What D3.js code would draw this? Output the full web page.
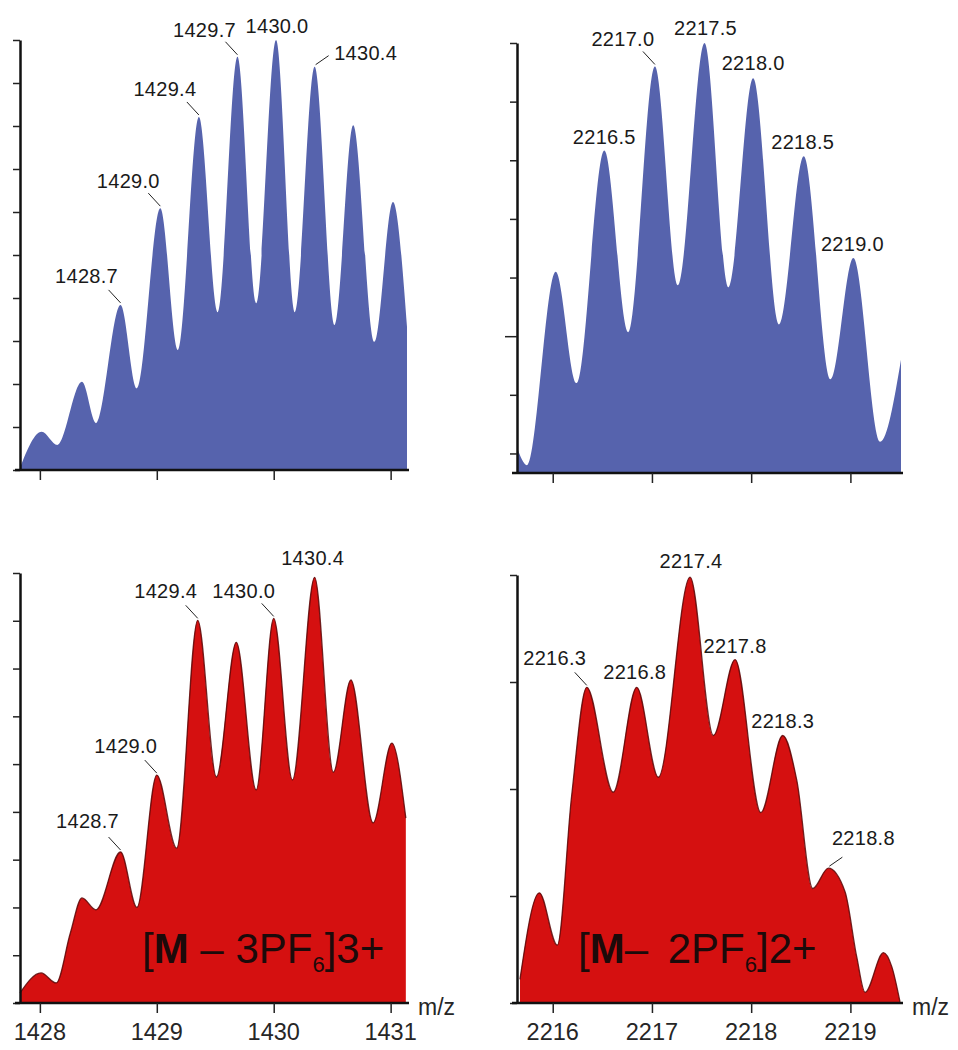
<!DOCTYPE html>
<html>
<head>
<meta charset="utf-8">
<script src="https://cdn.jsdelivr.net/npm/d3@7"></script>
<style>
  body { margin: 0; background: #fff; }
  svg { display: block; }
  .peak { font-family: "Liberation Sans", Arial, sans-serif; font-size: 20px; letter-spacing: 0.3px; fill: #1a1a1a; }
  .big { font-family: "Liberation Sans", Arial, sans-serif; font-size: 42px; fill: #1c0a0a; }
</style>
</head>
<body>
<div id="chart"></div>
<script>

// spectra (m/z, intensity)
// top left: calculated 3+ pattern (blue)
var mzA = [1427.83, 1428.015, 1428.15, 1428.36, 1428.48, 1428.69, 1428.83, 1429.03, 1429.18, 1429.36, 1429.52,
           1429.69, 1429.85, 1430.02, 1430.18, 1430.35, 1430.52, 1430.68, 1430.86, 1431.02, 1431.14];
var intA = [0.5, 8.9, 5.8, 20.5, 10.9, 38.4, 19.0, 60.9, 27.9, 82.1, 36.7,
            96.1, 38.8, 100, 36.7, 93.8, 33.7, 80.2, 29.8, 62.3, 33.3];
var peaksA = [1428.7, 1429.0, 1429.4, 1429.7, 1430.0, 1430.4];

// top right: calculated 2+ pattern (blue)
var mzB = [2215.64, 2215.74, 2216.03, 2216.24, 2216.52, 2216.76, 2217.03, 2217.26, 2217.53,
           2217.77, 2218.02, 2218.28, 2218.53, 2218.80, 2219.03, 2219.30, 2219.51];
var intB = [1.3, 0.4, 10.3, 4.6, 16.5, 7.2, 20.8, 9.6, 22.0,
            9.5, 20.2, 7.6, 16.2, 4.8, 11.0, 1.6, 5.8];
var peaksB = [2216.5, 2217.0, 2217.5, 2218.0, 2218.5, 2219.0];

// bottom left: measured [M - 3PF6]3+ (red)
var mzC = [1427.83, 1428.01, 1428.14, 1428.26, 1428.36, 1428.48, 1428.69, 1428.83, 1429.00, 1429.17, 1429.35,
           1429.51, 1429.68, 1429.85, 1430.00, 1430.16, 1430.35, 1430.51, 1430.66, 1430.85, 1431.01, 1431.13];
var intC = [0.21, 0.63, 0.42, 1.46, 2.2, 1.95, 3.16, 2.0, 4.77, 3.24, 8.01,
            4.73, 7.55, 4.46, 8.05, 4.67, 8.91, 4.83, 6.76, 3.77, 5.44, 3.87];
var peaksC = [1428.7, 1429.0, 1429.4, 1430.0, 1430.4];

// bottom right: measured [M - 2PF6]2+ (red)
var mzD = [2215.67, 2215.865, 2216.046, 2216.19, 2216.343, 2216.61, 2216.847, 2217.064, 2217.384, 2217.619, 2217.838,
           2218.097, 2218.318, 2218.46, 2218.62, 2218.778, 2218.946, 2219.064, 2219.148, 2219.333, 2219.417, 2219.50];
var intD = [0.22, 1.03, 0.54, 1.93, 2.95, 1.97, 2.95, 2.11, 3.98, 2.50, 3.21,
            1.78, 2.50, 2.08, 1.07, 1.26, 1.04, 0.43, 0.10, 0.47, 0.34, 0.01];
var peaksD = [2216.3, 2216.8, 2217.4, 2217.8, 2218.3, 2218.8];

// axis ticks
var xTicksLow = [1428, 1429, 1430, 1431];
var xTicksHigh = [2216, 2217, 2218, 2219];
var yTicksA = d3.range(0, 101, 10);
var yTicksB = [1, 4, 7, 10, 13, 16, 19, 22];
var yTicksC = d3.range(0, 10);
var yTicksD = [0, 1, 2, 3, 4];

var blue = "#5663ad";
var red = "#d51010";

var width = 958;
var height = 1050;

var svg = d3.select("#chart")
  .append("svg")
  .attr("width", width)
  .attr("height", height);

// label offsets from the peak: [dx, dy, leader]
var panels = [
  { mz: mzA, val: intA, peaks: peaksA, color: blue, left: 20, right: 407, top: 40, bottom: 470,
    xDom: [1427.83, 1431.14], yDom: [0, 100], xTicks: xTicksLow, yTicks: yTicksA, xLabels: false,
    lab: [[-34, -22, "l"], [-32, -20, "l"], [-34, -21, "l"], [-33, -20, "l"], [1, -7, null], [51, -7, "r"]] },
  { mz: mzB, val: intB, peaks: peaksB, color: blue, left: 517, right: 901, top: 43, bottom: 473,
    xDom: [2215.64, 2219.51], yDom: [0, 22], xTicks: xTicksHigh, yTicks: yTicksB, xLabels: false, major: 7,
    lab: [[0, -7, null], [-32, -20, "l"], [1, -8, null], [0, -8, null], [-1, -7, null], [-1, -7, null]] },
  { mz: mzC, val: intC, peaks: peaksC, color: red, left: 20, right: 407, top: 573, bottom: 1003,
    xDom: [1427.83, 1431.14], yDom: [0, 9], xTicks: xTicksLow, yTicks: yTicksC, xLabels: true,
    title: ["[", "M", " \u2013 3PF", "6", "]3+"], tx: 142, gap: 0,
    lab: [[-33, -24, "l"], [-31, -22, "l"], [-32, -22, "l"], [-30, -20, "l"], [-2, -12, null]] },
  { mz: mzD, val: intD, peaks: peaksD, color: red, left: 517, right: 901, top: 575, bottom: 1003,
    xDom: [2215.64, 2219.51], yDom: [0, 4], xTicks: xTicksHigh, yTicks: yTicksD, xLabels: true,
    title: ["[", "M", "\u2013 2PF", "6", "]2+"], tx: 578, gap: 8,
    lab: [[-32, -22, "l"], [-2, -8, null], [1, -9, null], [0, -7, null], [0, -8, null], [35, -23, "r"]] }
];

panels.forEach(function(p) {
  var g = svg.append("g");

  var xScale = d3.scaleLinear().domain(p.xDom).range([p.left, p.right]);
  var yScale = d3.scaleLinear().domain(p.yDom).range([p.bottom, p.top]);

  var pts = p.mz.map(function(m, i) { return [m, p.val[i]]; });

  var area = d3.area()
    .x(function(d) { return xScale(d[0]); })
    .y0(p.bottom)
    .y1(function(d) { return yScale(d[1]); })
    .curve(d3.curveMonotoneX);

  g.append("path")
    .datum(pts)
    .attr("d", area)
    .attr("fill", p.color);

  if (p.color == red) {
    var line = d3.line()
      .x(function(d) { return xScale(d[0]); })
      .y(function(d) { return yScale(d[1]); })
      .curve(d3.curveMonotoneX);
    g.append("path")
      .datum(pts)
      .attr("d", line)
      .attr("fill", "none")
      .attr("stroke", "#5a0606")
      .attr("stroke-width", 1.3)
      .attr("stroke-opacity", 0.85);
  }

  // axes
  var yAxis = d3.axisLeft(yScale).tickValues(p.yTicks).tickSize(7).tickSizeOuter(0).tickFormat("");
  var yg = g.append("g")
    .attr("transform", "translate(" + p.left + ",0)")
    .call(yAxis);
  yg.select(".domain").attr("stroke", "#111").attr("stroke-width", 2.5);
  yg.selectAll(".tick line").attr("stroke", "#222").attr("stroke-width", 1.5)
    .attr("x2", function(d) { return d === p.major ? -12 : -7; });

  var xAxis = d3.axisBottom(xScale).tickValues(p.xTicks).tickSize(10).tickSizeOuter(0).tickFormat("");
  var xg = g.append("g")
    .attr("transform", "translate(0," + p.bottom + ")")
    .call(xAxis);
  xg.select(".domain").attr("stroke", "#111").attr("stroke-width", 2.5)
    .attr("d", "M" + (p.left - 5) + ",0H" + (p.right + 2));
  xg.selectAll(".tick line").attr("stroke", "#222").attr("stroke-width", 1.5);

  // tick labels and unit, bottom row only
  if (p.xLabels) {
    g.selectAll("text.xlab")
      .data(p.xTicks)
      .enter()
      .append("text")
      .attr("class", "xlab")
      .attr("x", function(d) { return xScale(d); })
      .attr("y", p.bottom + 37)
      .attr("text-anchor", "middle")
      .attr("font-family", "Liberation Sans, Arial, sans-serif")
      .attr("font-size", 23.5)
      .attr("fill", "#262626")
      .text(function(d) { return d; });

    g.append("text")
      .attr("x", p.right + 11)
      .attr("y", p.bottom + 12)
      .attr("fill", "#262626")
      .attr("font-family", "Liberation Sans, Arial, sans-serif")
      .attr("font-size", 23)
      .text("m/z");
  }

  // peak labels, anchored on the nearest local maximum
  var maxima = pts.filter(function(d, i) {
    return i > 0 && i < pts.length - 1 && d[1] > pts[i - 1][1] && d[1] > pts[i + 1][1];
  });
  p.peaks.forEach(function(pk, k) {
    var best = maxima[d3.leastIndex(maxima, function(d) { return Math.abs(d[0] - pk); })];
    var px = xScale(best[0]);
    var py = yScale(best[1]);
    var o = p.lab[k];
    g.append("text")
      .attr("class", "peak")
      .attr("x", px + o[0])
      .attr("y", py + o[1])
      .attr("text-anchor", "middle")
      .text(d3.format(".1f")(pk));
    if (o[2] == "l") {
      g.append("line")
        .attr("x1", px - 12).attr("y1", py - 15)
        .attr("x2", px).attr("y2", py - 2)
        .attr("stroke", "#222").attr("stroke-width", 1);
    } else if (o[2] == "r") {
      g.append("line")
        .attr("x1", px + 14).attr("y1", py - 11)
        .attr("x2", px + 1).attr("y2", py - 2)
        .attr("stroke", "#222").attr("stroke-width", 1);
    }
  });

  // ion label
  if (p.title) {
    var t = g.append("text")
      .attr("class", "big")
      .attr("x", p.tx)
      .attr("y", 963)
      .attr("xml:space", "preserve");
    var s = p.title[2];
    var cut = s.lastIndexOf(" ") + 1;
    t.append("tspan").text(p.title[0]);
    t.append("tspan").attr("font-weight", "bold").text(p.title[1]);
    t.append("tspan").text(s.slice(0, cut));
    t.append("tspan").attr("dx", p.gap).text(s.slice(cut));
    t.append("tspan").attr("dy", 9).style("font-size", "22px").text(p.title[3]);
    t.append("tspan").attr("dy", -9).text(p.title[4]);
  }
});

</script>
</body>
</html>
